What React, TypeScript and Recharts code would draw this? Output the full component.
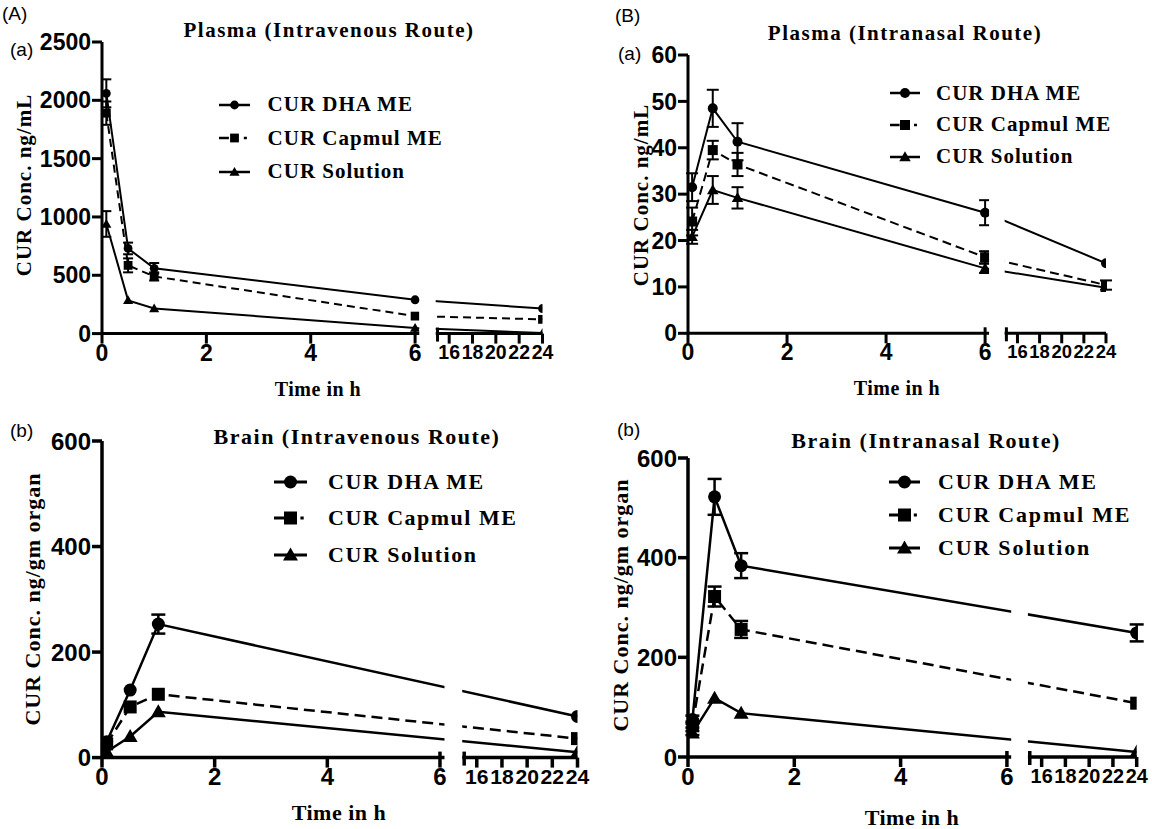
import React from 'react';
import { LineChart, Line, XAxis, YAxis, ErrorBar, ReferenceArea, Legend } from 'recharts';

// broken time axis: 0-6 h, then 15-24 h squeezed
const SEG2_START = 15;
const GAP = 0.43;
const SEG2_SCALE = 0.2235;
const toAxis = (t: number) => (t <= 6 ? t : 6 + GAP + (t - SEG2_START) * SEG2_SCALE);
const fromAxis = (v: number) => Math.round(v <= 6 + GAP / 2 ? v : SEG2_START + (v - 6 - GAP) / SEG2_SCALE);
const X_MAX = toAxis(24);
const TICK_HOURS = [0, 2, 4, 6, 15, 16, 18, 20, 22, 24];

// plasma sampling times (h)
const plasmaTimes = [0.083, 0.5, 1, 6, 24];
// brain sampling times (h)
const brainTimes = [0.083, 0.5, 1, 24];

// Plasma, intravenous (ng/mL)
const ivPlasmaDha = [2060, 730, 560, 290, 215];
const ivPlasmaDhaErr = [120, 50, 45, 0, 0];
const ivPlasmaCap = [1890, 585, 490, 150, 122];
const ivPlasmaCapErr = [100, 60, 35, 0, 0];
const ivPlasmaSol = [940, 285, 215, 48, 5];
const ivPlasmaSolErr = [110, 0, 0, 0, 0];

// Plasma, intranasal (ng/mL)
const inPlasmaDha = [31.5, 48.5, 41.3, 26.0, 15.1];
const inPlasmaDhaErr = [3, 4, 4, 2.7, 0];
const inPlasmaCap = [24.1, 39.5, 36.4, 16.4, 10.4];
const inPlasmaCapErr = [3, 2, 2.5, 1.3, 1];
const inPlasmaSol = [20.8, 30.9, 29.2, 14.0, 9.8];
const inPlasmaSolErr = [1.5, 3, 2.3, 1, 0];

// Brain, intravenous (ng/gm organ)
const ivBrainDha = [30, 128, 253, 78];
const ivBrainDhaErr = [0, 0, 18, 0];
const ivBrainCap = [26, 96, 120, 36];
const ivBrainCapErr = [0, 0, 0, 0];
const ivBrainSol = [11, 40, 87, 10];
const ivBrainSolErr = [0, 0, 0, 0];

// Brain, intranasal (ng/gm organ)
const inBrainDha = [75, 522, 384, 249];
const inBrainDhaErr = [8, 36, 25, 17];
const inBrainCap = [65, 322, 256, 108];
const inBrainCapErr = [6, 20, 17, 0];
const inBrainSol = [48, 118, 88, 10];
const inBrainSolErr = [4, 0, 0, 0];

const SERIES = [
  { key: 'dha', name: 'CUR DHA ME', shape: 'circle', dashed: false },
  { key: 'cap', name: 'CUR Capmul ME', shape: 'square', dashed: true },
  { key: 'sol', name: 'CUR Solution', shape: 'triangle', dashed: false },
];

const SERIF = '"Liberation Serif", "Times New Roman", serif';
const SANS = '"Liberation Sans", Arial, sans-serif';

const buildRows = (times: number[], dha: number[], dhaErr: number[], cap: number[], capErr: number[], sol: number[], solErr: number[]) =>
  times.map((t, i) => ({
    xp: toAxis(t),
    dha: dha[i], dhaErr: dhaErr[i],
    cap: cap[i], capErr: capErr[i],
    sol: sol[i], solErr: solErr[i],
  }));

const Marker = ({ shape, cx, cy, r }: any) => {
  if (shape === 'circle') return <circle cx={cx} cy={cy} r={r} fill="#000" />;
  if (shape === 'square') return <rect x={cx - r} y={cy - r} width={2 * r} height={2 * r} fill="#000" />;
  const w = r * 1.15;
  return <polygon points={`${cx},${cy - r * 1.15} ${cx - w},${cy + r * 0.85} ${cx + w},${cy + r * 0.85}`} fill="#000" />;
};

const panels = [
  {
    id: 'ivPlasma',
    rows: buildRows(plasmaTimes, ivPlasmaDha, ivPlasmaDhaErr, ivPlasmaCap, ivPlasmaCapErr, ivPlasmaSol, ivPlasmaSolErr),
    yMax: 2500, yTicks: [0, 500, 1000, 1500, 2000, 2500],
    plot: { l: 101.5, r: 542, t: 41.7, b: 333.3 },
    tickFont: 23, lw: 2, axisW: 3, r: 4.4, cap: 5, dash: '8 5',
    legend: { x: 219, y: 105, rowH: 33.5, lineLen: 31, textX: 267.6, font: 21, ls: 1 },
    title: 'Plasma (Intravenous Route)', titleAt: [329, 30], titleFont: 21,
    yLabel: 'CUR Conc. ng/mL', yLabelAt: [24, 185], yLabelFont: 21,
    xLabelAt: [318, 389], xLabelFont: 20,
  },
  {
    id: 'inPlasma',
    rows: buildRows(plasmaTimes, inPlasmaDha, inPlasmaDhaErr, inPlasmaCap, inPlasmaCapErr, inPlasmaSol, inPlasmaSolErr),
    yMax: 60, yTicks: [0, 10, 20, 30, 40, 50, 60],
    plot: { l: 687.5, r: 1105.5, t: 55, b: 333.3 },
    tickFont: 23, lw: 2, axisW: 3, r: 5, cap: 6, dash: '9 5',
    legend: { x: 890, y: 93.3, rowH: 31.7, lineLen: 30, textX: 936, font: 21, ls: 1 },
    title: 'Plasma (Intranasal Route)', titleAt: [905, 33], titleFont: 21,
    yLabel: 'CUR Conc. ng/mL', yLabelAt: [641, 195], yLabelFont: 21,
    xLabelAt: [897, 388], xLabelFont: 20,
  },
  {
    id: 'ivBrain',
    rows: buildRows(brainTimes, ivBrainDha, ivBrainDhaErr, ivBrainCap, ivBrainCapErr, ivBrainSol, ivBrainSolErr),
    yMax: 600, yTicks: [0, 200, 400, 600],
    plot: { l: 102, r: 577.5, t: 440.7, b: 757.3 },
    tickFont: 24, lw: 2.5, axisW: 3.5, r: 6.5, cap: 7, dash: '11 6',
    legend: { x: 274, y: 481.7, rowH: 36.7, lineLen: 33, textX: 328, font: 22, ls: 1.5 },
    title: 'Brain (Intravenous Route)', titleAt: [357, 437], titleFont: 22,
    yLabel: 'CUR Conc. ng/gm organ', yLabelAt: [33, 599], yLabelFont: 22,
    xLabelAt: [339, 813], xLabelFont: 22,
  },
  {
    id: 'inBrain',
    rows: buildRows(brainTimes, inBrainDha, inBrainDhaErr, inBrainCap, inBrainCapErr, inBrainSol, inBrainSolErr),
    yMax: 600, yTicks: [0, 200, 400, 600],
    plot: { l: 688, r: 1136.7, t: 458.3, b: 757.3 },
    tickFont: 24, lw: 2.5, axisW: 3.5, r: 6.5, cap: 7, dash: '11 6',
    legend: { x: 888.5, y: 481.7, rowH: 33.3, lineLen: 31, textX: 938, font: 22, ls: 1.8 },
    title: 'Brain (Intranasal Route)', titleAt: [926, 441], titleFont: 22,
    yLabel: 'CUR Conc. ng/gm organ', yLabelAt: [621, 605], yLabelFont: 22,
    xLabelAt: [912, 818], xLabelFont: 22,
  },
];

const panelTags = [
  { text: '(A)', x: 2, y: 4 },
  { text: '(a)', x: 10, y: 40 },
  { text: '(B)', x: 615, y: 6 },
  { text: '(a)', x: 618, y: 44 },
  { text: '(b)', x: 10, y: 421 },
  { text: '(b)', x: 617, y: 420 },
];

const LegendBox = ({ p }: any) => (
  <div style={{ display: 'flex', flexDirection: 'column' }}>
    {SERIES.map((s) => {
      const L = p.legend.lineLen;
      return (
        <div key={s.key} style={{ display: 'flex', alignItems: 'center', height: p.legend.rowH }}>
          <svg width={L} height={20} style={{ overflow: 'visible' }}>
            {s.dashed ? (
              <>
                <line x1={0} x2={L * 0.32} y1={10} y2={10} stroke="#000" strokeWidth={p.lw + 0.5} />
                <line x1={L * 0.8} x2={L * 0.9} y1={10} y2={10} stroke="#000" strokeWidth={p.lw + 0.5} />
              </>
            ) : (
              <line x1={0} x2={L} y1={10} y2={10} stroke="#000" strokeWidth={p.lw + 0.5} />
            )}
            <Marker shape={s.shape} cx={L / 2} cy={10} r={p.r} />
          </svg>
          <span
            style={{
              marginLeft: p.legend.textX - p.legend.x - L,
              fontFamily: SERIF, fontWeight: 700, fontSize: p.legend.font,
              letterSpacing: p.legend.ls, whiteSpace: 'nowrap', color: '#000',
            }}
          >
            {s.name}
          </span>
        </div>
      );
    })}
  </div>
);

const Panel = ({ p }: any) => {
  const yAxisW = 70;
  const padTop = 12;
  const padRight = 24;
  const xAxisH = 40;
  const left = p.plot.l - yAxisW;
  const top = p.plot.t - padTop;
  const width = p.plot.r - left + padRight;
  const height = p.plot.b - top + xAxisH;
  // the squeezed 16-24 h labels get a font that fits the 2 h tick spacing
  const seg2Room = (2 * SEG2_SCALE * (p.plot.r - p.plot.l)) / X_MAX - 1.5;
  const seg2Font = Math.min(p.tickFont, seg2Room / 1.12);

  const xTick = (props: any) => {
    const { x, y, payload } = props;
    const hour = fromAxis(payload.value);
    const ay = y - 10;
    const capTop = hour === 6 || hour === 15;
    const squeezed = hour >= 16;
    return (
      <g key={`xt-${payload.value}`}>
        <line x1={x} x2={x} y1={capTop ? ay - 6 : ay} y2={hour === 15 ? ay + 8 : ay + 10} stroke="#000" strokeWidth={p.axisW} />
        {hour !== 15 && (
          <text x={x} y={squeezed ? ay + 11 : ay + 10} dy="0.74em" textAnchor="middle" fill="#000"
            style={{ fontFamily: SANS, fontWeight: 700, fontSize: squeezed ? seg2Font : p.tickFont }}>
            {hour}
          </text>
        )}
      </g>
    );
  };

  const dotFor = (shape: string) => (d: any) => (
    <Marker key={`${shape}-${d.index}`} shape={shape} cx={d.cx} cy={d.cy} r={p.r} />
  );

  return (
    <div style={{ position: 'absolute', left, top, width, height }}>
      <LineChart width={width} height={height} data={p.rows} margin={{ top: padTop, right: padRight, left: 0, bottom: 0 }}>
        <XAxis
          type="number" dataKey="xp" domain={[0, X_MAX]} allowDataOverflow
          ticks={TICK_HOURS.map(toAxis)} interval={0} height={xAxisH}
          tickSize={10} tickMargin={0} tickLine={false} tick={xTick}
          axisLine={{ stroke: '#000', strokeWidth: p.axisW }}
        />
        <YAxis
          type="number" domain={[0, p.yMax]} ticks={p.yTicks} interval={0} width={yAxisW} allowDataOverflow
          tickSize={10} tickMargin={1}
          axisLine={{ stroke: '#000', strokeWidth: p.axisW }}
          tickLine={{ stroke: '#000', strokeWidth: p.axisW }}
          tick={{ fill: '#000', fontSize: p.tickFont, fontWeight: 700, fontFamily: SANS }}
        />
        <Line dataKey="sol" type="linear" stroke="#000" strokeWidth={p.lw} dot={dotFor('triangle')} activeDot={false} isAnimationActive={false}>
          <ErrorBar dataKey="solErr" width={p.cap} strokeWidth={p.lw} stroke="#000" direction="y" />
        </Line>
        <Line dataKey="cap" type="linear" stroke="#000" strokeWidth={p.lw} strokeDasharray={p.dash} dot={dotFor('square')} activeDot={false} isAnimationActive={false}>
          <ErrorBar dataKey="capErr" width={p.cap} strokeWidth={p.lw} stroke="#000" direction="y" />
        </Line>
        <Line dataKey="dha" type="linear" stroke="#000" strokeWidth={p.lw} dot={dotFor('circle')} activeDot={false} isAnimationActive={false}>
          <ErrorBar dataKey="dhaErr" width={p.cap} strokeWidth={p.lw} stroke="#000" direction="y" />
        </Line>
        <ReferenceArea
          x1={toAxis(6) + 0.08} x2={toAxis(SEG2_START) - 0.035}
          y1={-0.028 * p.yMax} y2={p.yMax}
          fill="#fff" fillOpacity={1} stroke="none" ifOverflow="visible"
          {...({ zIndex: 650 } as any)}
        />
        <Legend
          layout="vertical" align="center" verticalAlign="middle"
          content={() => <LegendBox p={p} />}
          wrapperStyle={{ left: p.legend.x - left, top: p.legend.y - p.legend.rowH / 2 - top, width: 'auto' }}
        />
      </LineChart>
    </div>
  );
};

const centered = (x: number, y: number, extra: any = {}) => ({
  position: 'absolute' as const, left: x, top: y, transform: 'translate(-50%, -50%)' + (extra.rotate ? ' rotate(-90deg)' : ''),
  whiteSpace: 'nowrap' as const, fontFamily: SERIF, fontWeight: 700, color: '#000', lineHeight: 1,
});

export default function App() {
  return (
    <div style={{ position: 'absolute', left: 0, top: 0, width: 1152, height: 829, background: '#fff', overflow: 'hidden' }}>
      {panels.map((p) => (
        <React.Fragment key={p.id}>
          <Panel p={p} />
          <div style={{ ...centered(p.titleAt[0], p.titleAt[1]), fontSize: p.titleFont, letterSpacing: 1.5 }}>{p.title}</div>
          <div style={{ ...centered(p.yLabelAt[0], p.yLabelAt[1], { rotate: true }), fontSize: p.yLabelFont, letterSpacing: 1 }}>{p.yLabel}</div>
          <div style={{ ...centered(p.xLabelAt[0], p.xLabelAt[1]), fontSize: p.xLabelFont, letterSpacing: 0.5 }}>Time in h</div>
        </React.Fragment>
      ))}
      {panelTags.map((t, i) => (
        <div key={i} style={{ position: 'absolute', left: t.x, top: t.y, fontFamily: SANS, fontSize: 19, color: '#000', lineHeight: 1 }}>{t.text}</div>
      ))}
    </div>
  );
}
